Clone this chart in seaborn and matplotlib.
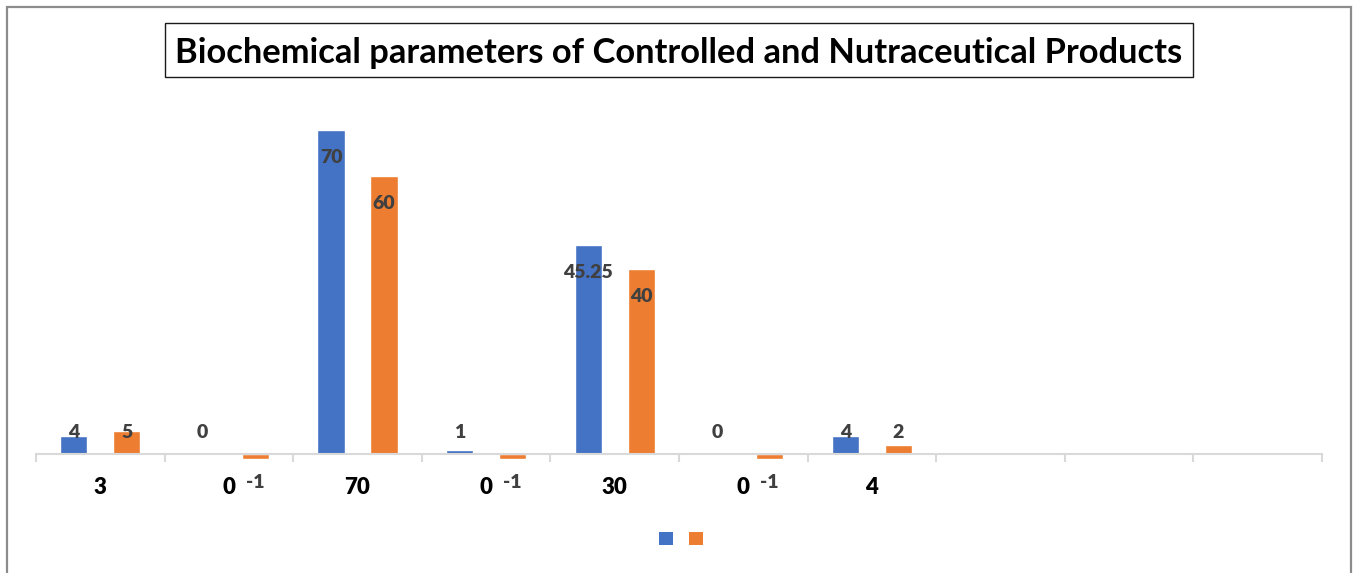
import numpy as np
import pandas as pd
import seaborn as sns
import matplotlib.pyplot as plt
from matplotlib.patches import Rectangle, Patch

# Chart data
categories = ["3", "0", "70", "0", "30", "0", "4", "", "", ""]
controlled = [4, 0, 70, 1, 45.25, 0, 4]
nutraceutical = [5, -1, 60, -1, 40, -1, 2]
series_names = ["Controlled", "Nutraceutical"]
title = "Biochemical parameters of Controlled and Nutraceutical Products"

colors = ["#4472C4", "#ED7D31"]
label_color = "#404040"
axis_color = "#d9d9d9"

sns.set_theme(style="white")
plt.rcParams["font.family"] = ["Lato", "DejaVu Sans"]

W, H = 1359, 573
fig = plt.figure(figsize=(W / 100, H / 100), dpi=100)


def px_rect(left, top, right, bottom):
    """Figure-fraction rectangle from pixel edges (origin top-left)."""
    return [left / W, 1 - bottom / H, (right - left) / W, (bottom - top) / H]


# Plot area: baseline at y=454 px, 4.63 px per unit
ymin, ymax = -5, 75
baseline_px = 454.3
px_per_unit = 4.633
top_px = baseline_px - ymax * px_per_unit
bottom_px = baseline_px - ymin * px_per_unit
ax = fig.add_axes(px_rect(36, top_px, 1322, bottom_px))

df = pd.DataFrame({
    "pos": list(range(len(controlled))) + list(range(len(nutraceutical))),
    "series": [series_names[0]] * len(controlled) + [series_names[1]] * len(nutraceutical),
    "value": controlled + nutraceutical,
})

sns.barplot(
    data=df, x="pos", y="value", hue="series",
    order=list(range(len(categories))), hue_order=series_names,
    palette=colors, saturation=1, width=0.824, gap=0.49,
    errorbar=None, legend=False, ax=ax,
)

ax.set_ylim(ymin, ymax)
ax.set_xlim(-0.5, len(categories) - 0.5)
for side in ["top", "right", "left"]:
    ax.spines[side].set_visible(False)
ax.spines["bottom"].set_position(("data", 0))
ax.spines["bottom"].set_color(axis_color)
ax.spines["bottom"].set_linewidth(1.5)
ax.set_yticks([])
ax.set_xlabel("")
ax.set_ylabel("")

ax.set_xticks(range(len(categories)))
ax.set_xticklabels(categories, fontsize=16, fontweight="heavy", color="black")
ax.tick_params(axis="x", which="major", bottom=True, length=0, pad=16)
ax.set_xticks(np.arange(-0.5, len(categories), 1.0), minor=True)
ax.tick_params(axis="x", which="minor", bottom=True, length=6, width=1.5,
               color=axis_color, direction="out")

# Value labels: inside the bar end, kept above the baseline for short bars
for container, values in zip(ax.containers, [controlled, nutraceutical]):
    for patch in container:
        xc = patch.get_x() + patch.get_width() / 2
        idx = int(round(xc))
        if idx >= len(values):
            continue
        v = values[idx]
        if v < 0:
            y = -28 / px_per_unit
        else:
            y = max(v - 27.5 / px_per_unit, 22 / px_per_unit)
        ax.text(xc, y, f"{v:g}", ha="center", va="center",
                fontsize=14, fontweight="heavy", color=label_color)

# Legend with unlabeled colour swatches
handles = [Patch(facecolor=c, edgecolor="none") for c in colors]
fig.legend(handles, ["", ""], loc="center",
           bbox_to_anchor=(681 / W, 1 - 538.7 / H), ncol=2, frameon=False,
           fontsize=10, handlelength=1.0, handleheight=1.0,
           handletextpad=0.0, columnspacing=1.1)

# Boxed title
fig.add_artist(Rectangle((164.7 / W, 1 - 76.7 / H), (1192.7 - 164.7) / W,
                         (76.7 - 23.3) / H, transform=fig.transFigure,
                         fill=False, edgecolor="#1a1a1a", linewidth=1.0))
fig.text(678.5 / W, 1 - 63.3 / H, title, ha="center", va="baseline",
         fontsize=24.8, fontweight="bold", color="black")

# Outer chart border
fig.add_artist(Rectangle((6.7 / W, -0.05), (1351 - 6.7) / W, 1.05 - 7.3 / H,
                         transform=fig.transFigure, fill=False,
                         edgecolor="#8c8c8c", linewidth=1.6))

fig.savefig("out.png", dpi=100)
